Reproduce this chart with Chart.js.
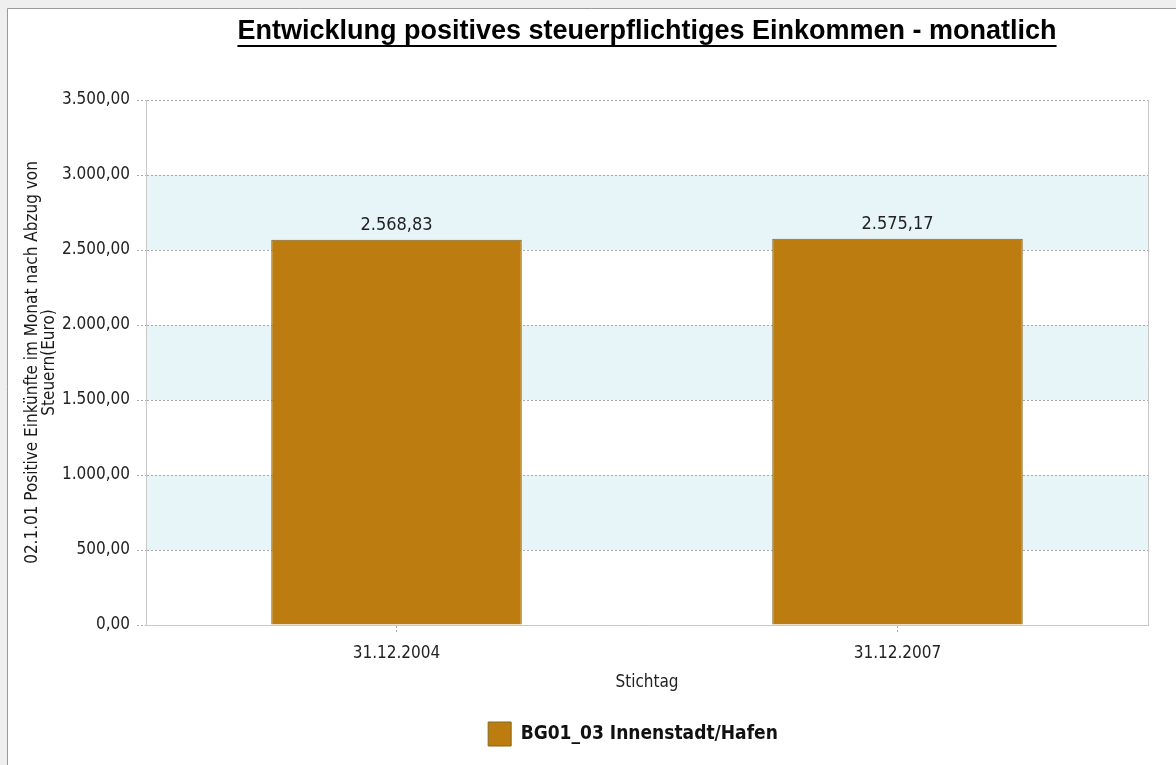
<!DOCTYPE html>
<html>
<head>
<meta charset="utf-8">
<script src="https://cdn.jsdelivr.net/npm/chart.js@4.4.1/dist/chart.umd.min.js"></script>
<style>
html, body { margin: 0; padding: 0; background: #efefef; }
canvas { display: block; }
</style>
</head>
<body>
<canvas id="chart" width="1176" height="765"></canvas>
<script>
// Daten
var stichtage = ['31.12.2004', '31.12.2007'];
var einkommen = [2568.83, 2575.17];
var serienName = 'BG01_03 Innenstadt/Hafen';
var diagrammTitel = 'Entwicklung positives steuerpflichtiges Einkommen - monatlich';
var yAchsenTitel = ['02.1.01 Positive Einkünfte im Monat nach Abzug von', 'Steuern(Euro)'];
var xAchsenTitel = 'Stichtag';
var yMin = 0, yMax = 3500, yStep = 500;

var schrift = "'DejaVu Sans Condensed', 'DejaVu Sans', sans-serif";

function zahlDE(v) {
    var teile = Math.abs(v).toFixed(2).split('.');
    var ganz = teile[0].replace(/\B(?=(\d{3})+(?!\d))/g, '.');
    return (v < 0 ? '-' : '') + ganz + ',' + teile[1];
}

var hintergrund = {
    id: 'hintergrund',
    afterLayout: function (chart) {
        // Legende etwas nach links, wie im Original
        if (chart.legend) {
            chart.legend.left -= 14;
            chart.legend.right -= 14;
        }
    },
    beforeDraw: function (chart) {
        var ctx = chart.ctx, a = chart.chartArea, y = chart.scales.y;
        ctx.save();
        ctx.fillStyle = '#efefef';
        ctx.fillRect(0, 0, chart.width, chart.height);
        ctx.fillStyle = '#ffffff';
        ctx.fillRect(8, 9, chart.width - 8, chart.height - 9);
        ctx.strokeStyle = '#9a9a9a';
        ctx.lineWidth = 1;
        ctx.beginPath();
        ctx.moveTo(7.5, chart.height);
        ctx.lineTo(7.5, 8.5);
        ctx.lineTo(chart.width, 8.5);
        ctx.stroke();
        // abwechselnde Baender zwischen den Ticks
        ctx.fillStyle = '#e7f4f8';
        for (var i = 1; i < y.ticks.length - 1; i += 2) {
            var y1 = y.getPixelForValue(y.ticks[i].value);
            var y2 = y.getPixelForValue(y.ticks[i + 1].value);
            ctx.fillRect(a.left, y2, a.right - a.left, y1 - y2);
        }
        ctx.restore();
    },
    afterDatasetsDraw: function (chart) {
        var ctx = chart.ctx;
        var meta = chart.getDatasetMeta(0);
        ctx.save();
        ctx.font = '18px ' + schrift;
        ctx.fillStyle = '#222222';
        ctx.textAlign = 'center';
        ctx.textBaseline = 'bottom';
        meta.data.forEach(function (bar, i) {
            ctx.fillText(zahlDE(einkommen[i]), bar.x, bar.y - 5);
        });
        ctx.restore();
    },
    afterDraw: function (chart) {
        var ctx = chart.ctx, a = chart.chartArea;
        ctx.save();
        // rechter Rahmen
        ctx.strokeStyle = '#c8c8c8';
        ctx.lineWidth = 1;
        ctx.beginPath();
        ctx.moveTo(Math.round(a.right) + 0.5, a.top);
        ctx.lineTo(Math.round(a.right) + 0.5, a.bottom);
        ctx.stroke();
        // Titel, unterstrichen
        var mitte = (a.left + a.right) / 2;
        ctx.font = 'bold 27px "Liberation Sans", Arial, sans-serif';
        ctx.fillStyle = '#000000';
        ctx.textAlign = 'center';
        ctx.textBaseline = 'alphabetic';
        ctx.fillText(diagrammTitel, mitte, 39);
        var w = ctx.measureText(diagrammTitel).width;
        ctx.fillRect(mitte - w / 2, 45, w, 2);
        ctx.restore();
    }
};

var ctx = document.getElementById('chart').getContext('2d');
var chart = new Chart(ctx, {
    type: 'bar',
    data: {
        labels: stichtage,
        datasets: [{
            label: serienName,
            data: einkommen,
            backgroundColor: '#bd7c0f',
            borderColor: '#86661f',
            borderWidth: 1,
            barPercentage: 0.5,
            categoryPercentage: 1.0
        }]
    },
    options: {
        responsive: false,
        animation: false,
        devicePixelRatio: 1,
        layout: { padding: { top: 100, right: 28, left: 0, bottom: 9 } },
        plugins: {
            title: { display: false },
            tooltip: { enabled: false },
            legend: {
                position: 'bottom',
                fullSize: false,
                labels: {
                    boxWidth: 23,
                    boxHeight: 24,
                    padding: 22,
                    color: '#111111',
                    font: { family: schrift, size: 19, weight: 'bold' }
                }
            }
        },
        scales: {
            x: {
                afterFit: function (s) { s.height = 75; },
                grid: {
                    display: true,
                    drawOnChartArea: false,
                    offset: false,
                    tickLength: 7,
                    tickColor: '#a8a8a8',
                    tickBorderDash: [2, 2]
                },
                border: { display: true, color: '#c8c8c8', width: 1 },
                ticks: {
                    color: '#222222',
                    padding: 11,
                    font: { family: schrift, size: 17 }
                },
                title: {
                    display: true,
                    text: xAchsenTitel,
                    color: '#222222',
                    padding: { top: 0, bottom: 7 },
                    font: { family: schrift, size: 17 }
                }
            },
            y: {
                min: yMin,
                max: yMax,
                afterFit: function (s) { s.width = 146; },
                ticks: {
                    stepSize: yStep,
                    color: '#222222',
                    padding: 7,
                    font: { family: schrift, size: 17 },
                    callback: function (v) { return zahlDE(v); }
                },
                grid: {
                    color: '#aaaaaa',
                    tickLength: 9,
                    tickColor: '#aaaaaa',
                    tickBorderDash: [2, 2]
                },
                border: { display: true, color: '#c8c8c8', width: 1, dash: [2, 2] },
                title: {
                    display: true,
                    text: yAchsenTitel,
                    color: '#1a1a1a',
                    padding: { top: 24, bottom: 0 },
                    font: { family: schrift, size: 17, lineHeight: 1.0 }
                }
            }
        }
    },
    plugins: [hintergrund]
});
</script>
</body>
</html>
